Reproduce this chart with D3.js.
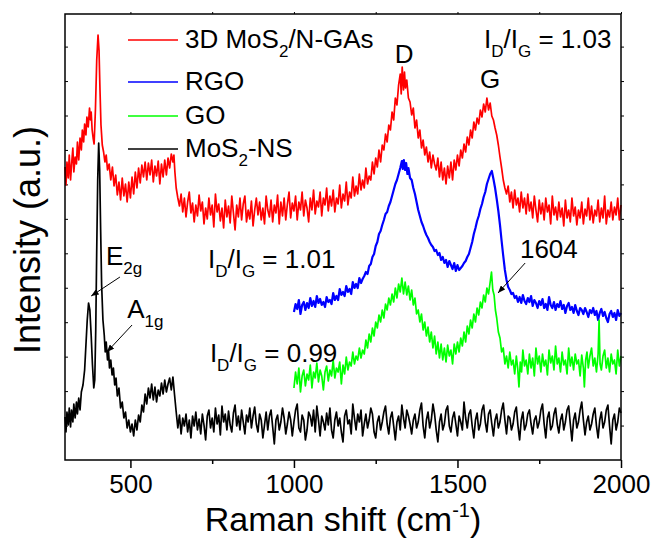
<!DOCTYPE html>
<meta charset="utf-8">
<style>
body { margin: 0; background: #fff; }
text { font-family: "Liberation Sans", Arial, sans-serif; fill: #000; }
</style>
<script src="https://d3js.org/d3.v7.min.js"></script>
<div id="chart"></div>
<script>

// Raman spectra, [wavenumber (cm-1), intensity (a.u.)]
var mos2GAs = [[300,293],[303,275],[306,298],[310,282],[313,305],[317,280],[320,295],[324,312],[327,288],[331,303],[335,296],[338,318],[342,300],[346,322],[350,310],[353,330],[357,318],[360,336],[364,325],[367,343],[371,333],[375,352],[378,340],[380,348],[383,330],[386,322],[389,316],[393,350],[397,400],[401,425],[404,410],[407,370],[410,335],[414,315],[418,308],[422,298],[426,305],[430,290],[435,296],[440,280],[445,293],[450,274],[455,285],[460,265],[465,278],[470,260],[475,282],[480,264],[485,276],[490,258],[495,278],[500,262],[505,283],[510,266],[515,288],[520,272],[525,292],[530,277],[535,295],[540,283],[545,298],[550,280],[555,297],[560,285],[565,300],[570,278],[575,294],[580,284],[585,299],[590,276],[595,296],[600,283],[605,300],[610,285],[615,302],[620,292],[625,306],[630,298],[633,305],[636,288],[640,272],[645,262],[650,254],[655,266],[660,248],[665,262],[670,243],[675,258],[680,268],[685,247],[690,257],[695,238],[700,255],[705,244],[710,265],[715,249],[720,258],[725,236],[730,252],[735,241],[740,262],[745,245],[750,255],[755,233],[760,266],[765,248],[770,256],[775,239],[780,252],[785,232],[790,260],[795,243],[800,254],[805,237],[810,264],[815,247],[820,230],[825,255],[830,243],[835,262],[840,240],[845,256],[850,264],[855,238],[860,250],[865,241],[870,259],[875,234],[880,250],[885,262],[890,245],[895,258],[900,240],[905,252],[910,236],[915,264],[920,250],[925,243],[930,260],[935,238],[940,255],[945,247],[950,265],[955,236],[960,258],[965,244],[970,262],[975,240],[980,256],[985,268],[990,242],[995,257],[1000,249],[1005,264],[1010,240],[1015,258],[1020,250],[1025,268],[1030,244],[1035,260],[1040,252],[1045,238],[1050,262],[1055,250],[1060,270],[1065,246],[1070,259],[1075,253],[1080,268],[1085,244],[1090,262],[1095,255],[1100,272],[1105,249],[1110,264],[1115,254],[1120,270],[1125,248],[1130,262],[1135,256],[1140,275],[1145,252],[1150,266],[1155,259],[1160,278],[1165,255],[1170,268],[1175,262],[1180,283],[1185,264],[1190,274],[1195,266],[1200,286],[1205,270],[1210,280],[1215,272],[1220,292],[1225,276],[1230,284],[1235,280],[1240,298],[1245,286],[1250,302],[1255,293],[1260,310],[1265,298],[1270,315],[1275,310],[1280,326],[1285,318],[1290,335],[1295,330],[1300,348],[1305,340],[1310,362],[1315,355],[1320,375],[1325,386],[1328,366],[1331,393],[1335,370],[1338,388],[1341,372],[1345,380],[1350,362],[1355,358],[1360,345],[1365,352],[1370,332],[1375,340],[1380,322],[1385,330],[1390,312],[1395,320],[1400,305],[1405,313],[1410,298],[1415,308],[1420,292],[1425,305],[1430,296],[1435,290],[1440,302],[1445,283],[1450,298],[1455,280],[1460,292],[1465,276],[1470,294],[1475,282],[1480,298],[1485,280],[1490,300],[1495,290],[1500,305],[1505,294],[1510,310],[1515,302],[1520,316],[1525,308],[1530,323],[1535,315],[1540,330],[1545,322],[1550,338],[1555,330],[1560,342],[1565,336],[1570,350],[1575,343],[1580,356],[1585,348],[1590,362],[1595,350],[1600,357],[1605,344],[1610,340],[1615,332],[1620,325],[1625,315],[1630,303],[1635,292],[1640,280],[1645,272],[1650,266],[1655,274],[1660,258],[1665,268],[1670,252],[1675,270],[1680,255],[1685,262],[1690,248],[1695,268],[1700,252],[1705,262],[1710,246],[1715,266],[1720,249],[1725,258],[1730,242],[1735,264],[1740,250],[1745,238],[1750,260],[1755,246],[1760,257],[1765,240],[1770,262],[1775,248],[1780,255],[1785,236],[1790,264],[1795,245],[1800,253],[1805,240],[1810,258],[1815,243],[1820,252],[1825,234],[1830,260],[1835,242],[1840,250],[1845,238],[1850,262],[1855,244],[1860,253],[1865,235],[1870,250],[1875,242],[1880,258],[1885,236],[1890,251],[1895,244],[1900,262],[1905,240],[1910,254],[1915,237],[1920,250],[1925,244],[1930,260],[1935,238],[1940,252],[1945,242],[1950,264],[1955,236],[1960,250],[1965,243],[1970,258],[1975,240],[1980,253],[1985,245],[1990,262],[1995,240],[2000,255]];

var rgo = [[1000,148],[1005,156],[1010,151],[1015,160],[1020,146],[1025,155],[1030,158],[1035,150],[1040,157],[1045,152],[1050,162],[1055,154],[1060,159],[1065,153],[1070,164],[1075,157],[1080,161],[1085,155],[1090,158],[1095,153],[1100,163],[1105,158],[1110,160],[1115,156],[1120,167],[1125,160],[1130,164],[1135,160],[1140,171],[1145,165],[1150,168],[1155,164],[1160,174],[1165,168],[1170,171],[1175,166],[1180,178],[1185,172],[1190,176],[1195,172],[1200,182],[1205,177],[1210,181],[1215,184],[1220,188],[1225,186],[1230,194],[1235,196],[1240,203],[1245,206],[1250,214],[1255,218],[1260,226],[1265,229],[1270,235],[1275,240],[1280,246],[1285,248],[1290,254],[1295,258],[1300,264],[1305,270],[1310,276],[1315,280],[1320,286],[1325,292],[1330,299],[1333,291],[1336,300],[1340,290],[1343,297],[1347,286],[1350,292],[1355,282],[1360,280],[1365,272],[1370,266],[1375,258],[1380,250],[1385,244],[1390,238],[1395,234],[1400,229],[1405,225],[1410,222],[1415,218],[1420,215],[1425,213],[1430,209],[1435,210],[1440,205],[1445,207],[1450,200],[1455,203],[1460,197],[1465,200],[1470,193],[1475,199],[1480,195],[1485,191],[1490,197],[1495,189],[1500,195],[1505,190],[1510,192],[1515,194],[1520,197],[1525,199],[1530,203],[1535,206],[1540,212],[1545,218],[1550,226],[1555,232],[1560,239],[1565,244],[1570,251],[1575,256],[1580,263],[1585,268],[1590,276],[1595,281],[1600,286],[1605,289],[1610,281],[1615,272],[1620,261],[1625,249],[1630,235],[1635,219],[1640,204],[1645,190],[1650,180],[1655,173],[1660,170],[1665,166],[1670,167],[1675,162],[1680,164],[1685,158],[1690,163],[1695,157],[1700,165],[1705,159],[1710,156],[1715,162],[1720,158],[1725,164],[1730,154],[1735,160],[1740,157],[1745,152],[1750,159],[1755,155],[1760,161],[1765,152],[1770,156],[1775,150],[1780,163],[1785,155],[1790,152],[1795,158],[1800,150],[1805,156],[1810,153],[1815,159],[1820,151],[1825,155],[1830,147],[1835,154],[1840,157],[1845,150],[1850,153],[1855,147],[1860,155],[1865,149],[1870,145],[1875,152],[1880,150],[1885,146],[1890,152],[1895,148],[1900,143],[1905,150],[1910,147],[1915,152],[1920,145],[1925,149],[1930,140],[1935,147],[1940,151],[1945,144],[1950,148],[1955,142],[1960,138],[1965,146],[1970,149],[1975,143],[1980,147],[1985,140],[1990,150],[1995,144],[2000,147]];

var go = [[1000,72],[1005,88],[1010,76],[1015,92],[1020,68],[1025,84],[1030,90],[1035,74],[1040,86],[1045,80],[1050,95],[1055,72],[1060,88],[1065,82],[1070,97],[1075,78],[1080,90],[1085,84],[1090,70],[1095,88],[1100,94],[1105,79],[1110,90],[1115,84],[1120,100],[1125,82],[1130,92],[1135,88],[1140,98],[1145,76],[1150,95],[1155,86],[1160,103],[1165,90],[1170,98],[1175,94],[1180,108],[1185,96],[1190,104],[1195,100],[1200,112],[1205,102],[1210,110],[1215,106],[1220,120],[1225,112],[1230,126],[1235,118],[1240,132],[1245,124],[1250,138],[1255,132],[1260,145],[1265,138],[1270,150],[1275,142],[1280,156],[1285,150],[1290,162],[1295,155],[1300,166],[1305,158],[1310,172],[1315,162],[1320,176],[1325,168],[1330,182],[1335,166],[1340,178],[1345,165],[1350,174],[1355,160],[1360,170],[1365,155],[1370,162],[1375,146],[1380,150],[1385,138],[1390,146],[1395,130],[1400,138],[1405,124],[1410,133],[1415,118],[1420,128],[1425,112],[1430,124],[1435,106],[1440,118],[1445,102],[1450,116],[1455,100],[1460,112],[1465,98],[1470,115],[1475,104],[1480,110],[1485,96],[1490,116],[1495,106],[1500,118],[1505,108],[1510,122],[1515,114],[1520,128],[1525,118],[1530,134],[1535,126],[1540,140],[1545,132],[1550,146],[1555,138],[1560,152],[1565,145],[1570,158],[1575,152],[1580,165],[1585,158],[1590,172],[1595,166],[1600,178],[1604,188],[1608,170],[1612,165],[1616,150],[1620,142],[1625,128],[1630,122],[1635,108],[1640,112],[1645,96],[1650,104],[1655,92],[1660,108],[1665,95],[1670,100],[1675,86],[1680,104],[1684,92],[1688,73],[1692,98],[1696,88],[1700,110],[1705,94],[1710,100],[1715,86],[1720,106],[1725,92],[1730,102],[1735,84],[1740,112],[1745,96],[1750,104],[1755,88],[1760,106],[1765,94],[1770,100],[1775,85],[1780,110],[1785,97],[1790,104],[1795,90],[1800,114],[1805,96],[1810,102],[1815,88],[1820,108],[1825,95],[1830,100],[1835,86],[1840,112],[1845,94],[1850,103],[1855,90],[1860,106],[1865,96],[1870,100],[1875,84],[1880,105],[1885,92],[1888,73],[1892,100],[1896,108],[1900,92],[1905,104],[1910,112],[1915,94],[1920,102],[1925,88],[1930,106],[1933,140],[1936,96],[1940,90],[1945,104],[1950,110],[1955,92],[1960,102],[1965,88],[1970,106],[1975,96],[1980,100],[1985,86],[1990,110],[1995,94],[2000,104]];

var mos2NS = [[300,43],[303,28],[306,48],[310,35],[313,52],[317,33],[320,50],[324,38],[327,56],[331,42],[335,58],[338,46],[342,62],[346,50],[350,68],[355,75],[360,90],[364,115],[368,140],[372,157],[376,150],[380,125],[384,95],[388,72],[391,80],[394,130],[397,210],[400,280],[403,317],[406,290],[409,230],[412,175],[416,140],[420,125],[423,108],[426,118],[430,100],[433,110],[436,92],[440,100],[444,85],[448,92],[452,75],[456,82],[460,64],[465,72],[470,52],[475,58],[480,42],[485,48],[490,32],[495,40],[500,28],[505,36],[510,24],[515,40],[520,30],[525,45],[530,38],[535,55],[540,48],[545,66],[550,56],[555,72],[560,62],[565,76],[570,60],[575,73],[580,58],[585,70],[590,64],[595,77],[600,66],[605,80],[610,68],[615,76],[620,82],[625,70],[630,83],[635,65],[640,48],[645,32],[650,45],[655,26],[660,42],[665,34],[670,46],[675,28],[680,40],[685,22],[690,44],[695,34],[700,48],[705,30],[710,41],[715,26],[720,46],[725,35],[730,20],[735,44],[740,50],[745,32],[750,42],[755,28],[760,52],[765,36],[770,45],[775,25],[780,54],[785,38],[790,46],[795,30],[800,49],[805,35],[810,28],[815,47],[820,55],[825,34],[830,44],[835,30],[840,50],[845,38],[850,26],[855,45],[860,38],[865,52],[870,32],[875,44],[880,53],[885,36],[890,28],[895,46],[900,40],[905,22],[910,35],[915,48],[920,30],[925,44],[930,50],[935,33],[940,16],[945,40],[950,45],[955,30],[960,38],[965,52],[970,42],[975,26],[980,36],[985,48],[990,40],[995,24],[1000,38],[1005,50],[1010,56],[1015,32],[1020,28],[1025,45],[1030,40],[1035,20],[1040,30],[1045,48],[1050,44],[1055,34],[1060,50],[1065,28],[1070,54],[1075,40],[1080,24],[1085,44],[1090,38],[1095,30],[1100,47],[1105,35],[1110,52],[1115,30],[1120,22],[1125,40],[1130,48],[1135,34],[1140,42],[1145,28],[1150,18],[1155,44],[1160,50],[1165,36],[1170,40],[1175,26],[1180,56],[1185,42],[1190,30],[1195,46],[1200,38],[1205,50],[1210,24],[1215,36],[1220,46],[1225,32],[1230,40],[1235,52],[1240,46],[1245,28],[1250,22],[1255,38],[1260,44],[1265,30],[1270,38],[1275,48],[1280,54],[1285,36],[1290,26],[1295,42],[1300,48],[1305,34],[1310,20],[1315,38],[1320,44],[1325,30],[1330,55],[1335,42],[1340,32],[1345,50],[1350,44],[1355,36],[1360,26],[1365,40],[1370,46],[1375,32],[1380,38],[1385,50],[1390,57],[1395,34],[1400,22],[1405,40],[1410,48],[1415,32],[1420,40],[1425,56],[1430,46],[1435,30],[1440,18],[1445,38],[1450,46],[1455,30],[1460,36],[1465,50],[1470,54],[1475,34],[1480,28],[1485,42],[1490,48],[1495,36],[1500,24],[1505,44],[1510,38],[1515,30],[1520,58],[1525,42],[1530,32],[1535,46],[1540,50],[1545,34],[1550,22],[1555,40],[1560,47],[1565,30],[1570,36],[1575,50],[1580,55],[1585,38],[1590,28],[1595,46],[1600,50],[1605,36],[1610,24],[1615,40],[1620,46],[1625,32],[1630,38],[1635,50],[1640,57],[1645,40],[1650,26],[1655,44],[1660,42],[1665,30],[1670,36],[1675,48],[1680,53],[1685,34],[1690,20],[1695,40],[1700,48],[1705,30],[1710,35],[1715,46],[1720,50],[1725,36],[1730,26],[1735,40],[1740,44],[1745,32],[1750,38],[1755,50],[1760,56],[1765,36],[1770,22],[1775,42],[1780,48],[1785,30],[1790,34],[1795,46],[1800,52],[1805,36],[1810,27],[1815,40],[1820,46],[1825,30],[1830,38],[1835,50],[1840,54],[1845,36],[1850,19],[1855,40],[1860,47],[1865,32],[1870,38],[1875,50],[1880,58],[1885,40],[1890,25],[1895,38],[1900,44],[1905,30],[1910,36],[1915,46],[1920,52],[1925,34],[1930,22],[1935,40],[1940,48],[1945,32],[1950,38],[1955,50],[1960,55],[1965,34],[1970,16],[1975,40],[1980,46],[1985,30],[1990,38],[1995,52],[2000,47]];

var seriesNames = ["3D MoS_{2}/N-GAs", "RGO", "GO", "MoS_{2}-NS"];
var seriesColors = ["#ff0000", "#0000ff", "#00ff00", "#000000"];
var xMajorTicks = [500, 1000, 1500, 2000];
var xMinorTicks = [750, 1250, 1750];
var yTicks = [34.45, 68.9, 103.35, 137.8, 172.25, 206.7, 241.15, 275.6, 310.05, 344.5, 378.95, 413.4];

// text labels placed in data coords; arrows go from [x1,y1] to [x2,y2]
var labels = [
  {t: "D", x: 1337, y: 397, anchor: "middle"},
  {t: "G", x: 1600, y: 372, anchor: "middle"},
  {t: "I_{D}/I_{G} = 1.03", x: 1581, y: 412, anchor: "start"},
  {t: "I_{D}/I_{G} = 1.01", x: 737, y: 192, anchor: "start"},
  {t: "I_{D}/I_{G} = 0.99", x: 743, y: 98, anchor: "start"},
  {t: "E_{2g}", x: 425, y: 195, anchor: "start"},
  {t: "A_{1g}", x: 490, y: 142, anchor: "start"},
  {t: "1604", x: 1691, y: 202, anchor: "start"}
];
var arrows = [
  [468, 183, 380, 164],
  [505, 135, 428, 108],
  [1707, 197, 1624, 167]
];

var margin = {top: 14, right: 35, bottom: 80, left: 65},
  width = 656 - margin.left - margin.right,
  height = 540 - margin.top - margin.bottom;

var svg = d3.select("#chart")
  .append("svg")
    .attr("width", 656)
    .attr("height", 540)
  .append("g")
    .attr("transform", "translate(" + margin.left + "," + margin.top + ")");

var x = d3.scaleLinear().domain([300, 2000]).range([0, width]);
var y = d3.scaleLinear().domain([0, height]).range([height, 0]);

// writes "a_{b}c" style markup as tspans with subscripts
function richText(sel, str, size) {
  var parts = str.split(/_\{([^}]*)\}/);
  var sub = Math.round(size * 0.65), shift = size * 0.36;
  parts.forEach(function(p, i) {
    if (p === "") return;
    var ts = sel.append("tspan").text(p);
    if (i % 2 === 1) {
      ts.style("font-size", sub + "px").attr("dy", shift);
    } else if (i > 0) {
      ts.attr("dy", -shift);
    }
  });
}

// axes
svg.append("g")
  .attr("transform", "translate(0," + height + ")")
  .call(d3.axisBottom(x).tickValues(xMajorTicks).tickSize(8).tickPadding(7).tickFormat(d3.format("d")))
  .call(function(g) { g.select(".domain").remove(); })
  .call(function(g) { g.selectAll("line").attr("stroke-width", 1.5); })
  .call(function(g) { g.selectAll("text").style("font-size", "26px").attr("font-family", null); });

svg.append("g")
  .attr("transform", "translate(0," + height + ")")
  .call(d3.axisBottom(x).tickValues(xMinorTicks).tickSize(4).tickFormat(""))
  .call(function(g) { g.select(".domain").remove(); g.selectAll("line").attr("stroke-width", 1.5); });

svg.append("g")
  .call(d3.axisTop(x).tickValues(xMajorTicks.concat(xMinorTicks)).tickSize(2).tickFormat(""))
  .call(function(g) { g.select(".domain").remove(); });

svg.append("g")
  .call(d3.axisLeft(y).tickValues(yTicks).tickSize(-3).tickFormat(""))
  .call(function(g) { g.select(".domain").remove(); });

svg.append("g")
  .attr("transform", "translate(" + width + ",0)")
  .call(d3.axisRight(y).tickValues(yTicks).tickSize(3).tickFormat(""))
  .call(function(g) { g.select(".domain").remove(); });

// spectra
var line = d3.line()
  .x(function(d) { return x(d[0]); })
  .y(function(d) { return y(d[1]); });

var allSeries = [mos2GAs, rgo, go, mos2NS];
allSeries.forEach(function(s, i) {
  svg.append("path")
    .datum(s)
    .attr("fill", "none")
    .attr("stroke", seriesColors[i])
    .attr("stroke-width", i === 1 ? 2.2 : 1.7)
    .attr("stroke-linejoin", "round")
    .attr("d", line);
});

// frame
svg.append("rect")
  .attr("width", width)
  .attr("height", height)
  .attr("fill", "none")
  .attr("stroke", "#000")
  .attr("stroke-width", 1.5);

// legend
var legendY = [26, 68, 102, 135];
seriesNames.forEach(function(n, i) {
  svg.append("line")
    .attr("x1", 63).attr("x2", 113)
    .attr("y1", legendY[i]).attr("y2", legendY[i])
    .attr("stroke", seriesColors[i])
    .attr("stroke-width", 1.5);
  richText(svg.append("text")
    .attr("x", 120)
    .attr("y", legendY[i] + 8)
    .style("font-size", "26px"), n, 26);
});

// annotations
labels.forEach(function(l) {
  richText(svg.append("text")
    .attr("x", x(l.x))
    .attr("y", y(l.y))
    .attr("text-anchor", l.anchor)
    .style("font-size", "26px"), l.t, 26);
});

svg.append("defs").append("marker")
  .attr("id", "head")
  .attr("viewBox", "0 0 10 8")
  .attr("refX", 10).attr("refY", 4)
  .attr("markerWidth", 8).attr("markerHeight", 6)
  .attr("markerUnits", "userSpaceOnUse")
  .attr("orient", "auto")
  .append("path")
    .attr("d", "M0,0L10,4L0,8Z")
    .attr("fill", "#000");

arrows.forEach(function(a) {
  svg.append("line")
    .attr("x1", x(a[0])).attr("y1", y(a[1]))
    .attr("x2", x(a[2])).attr("y2", y(a[3]))
    .attr("stroke", "#000")
    .attr("stroke-width", 1)
    .attr("marker-end", "url(#head)");
});

// axis titles
svg.append("text")
  .attr("x", 278)
  .attr("y", 517)
  .attr("text-anchor", "middle")
  .style("font-size", "34px")
  .call(function(t) {
    t.append("tspan").text("Raman shift (cm");
    t.append("tspan").text("-1").style("font-size", "20px").attr("dy", -14);
    t.append("tspan").text(")").attr("dy", 14);
  });

svg.append("text")
  .attr("transform", "translate(-25,226) rotate(-90)")
  .attr("text-anchor", "middle")
  .style("font-size", "36px")
  .text("Intensity (a.u.)");

</script>
